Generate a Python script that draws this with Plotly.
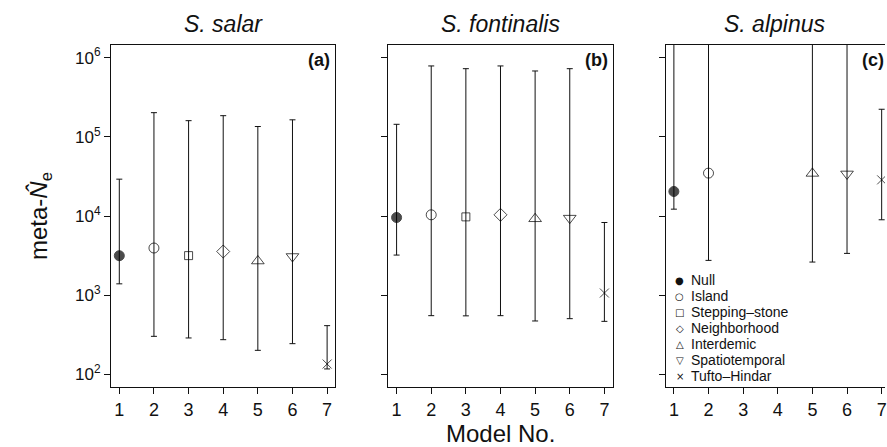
import plotly.graph_objects as go

models = [1, 2, 3, 4, 5, 6, 7]
model_names = ["Null", "Island", "Stepping\u2013stone", "Neighborhood",
               "Interdemic", "Spatiotemporal", "Tufto\u2013Hindar"]
species = ["S. salar", "S. fontinalis", "S. alpinus"]
panel_tags = ["(a)", "(b)", "(c)"]

salar_est = [3150, 3940, 3160, 3560, 2700, 3080, 135]
salar_lo = [1390, 302, 288, 274, 201, 244, 117]
salar_hi = [29200, 202000, 160000, 185000, 135000, 164000, 412]

fontinalis_est = [9570, 10350, 9750, 10350, 9220, 9400, 1064]
fontinalis_lo = [3210, 551, 548, 551, 472, 505, 467]
fontinalis_hi = [144000, 786000, 726000, 786000, 679000, 726000, 8280]

# upper limits of models 1,2,5,6 are unbounded (infinite) for S. alpinus
alpinus_est = [20400, 34800, None, None, 34500, 34000, 28600]
alpinus_lo = [12200, 2750, None, None, 2620, 3370, 8960]
alpinus_hi = [1e12, 1e12, None, None, 1e12, 1e12, 223000]

ytick_vals = [100, 1000, 10000, 100000, 1000000]
ytick_text = ["10<sup>2</sup>", "10<sup>3</sup>", "10<sup>4</sup>",
              "10<sup>5</sup>", "10<sup>6</sup>"]

symbols = ["circle", "circle-open", "square-open", "diamond-open",
           "triangle-up-open", "triangle-down-open", "x-thin-open"]
sizes = [10, 10, 8, 10, 11, 11, 9]
legend_glyphs = ["\u25CF", "\u25CB", "\u25A1", "\u25C7", "\u25B3", "\u25BD", "\u00D7"]

INK = "#111111"
FONT = "Liberation Sans, Arial, sans-serif"

data = [(salar_est, salar_lo, salar_hi),
        (fontinalis_est, fontinalis_lo, fontinalis_hi),
        (alpinus_est, alpinus_lo, alpinus_hi)]

fig = go.Figure()
for i, (est, lo, hi) in enumerate(data):
    sfx = "" if i == 0 else str(i + 1)
    up = [None if e is None else h - e for e, h in zip(est, hi)]
    dn = [None if e is None else e - l for e, l in zip(est, lo)]
    fig.add_trace(go.Scatter(
        x=models, y=est, mode="markers", showlegend=False,
        xaxis="x" + sfx, yaxis="y" + sfx,
        marker=dict(symbol=symbols, size=sizes, color="#000000",
                    line=dict(color="#000000", width=1)),
        error_y=dict(type="data", symmetric=False, array=up, arrayminus=dn,
                     color=INK, thickness=1, width=3),
    ))

W_PLOT = 887 - 111
dom = [[0, 225 / W_PLOT], [278 / W_PLOT, 503 / W_PLOT], [556 / W_PLOT, 1.0]]
xr = [[0.76, 7.24], [0.76, 7.24], [0.76, 0.76 + 220 / 34.72]]

layout = dict(
    width=887, height=447,
    margin=dict(l=111, r=0, t=45, b=60),
    paper_bgcolor="white", plot_bgcolor="white",
    font=dict(family=FONT, color=INK, size=18),
    showlegend=False,
)
annotations = []
for i in range(3):
    sfx = "" if i == 0 else str(i + 1)
    layout["xaxis" + sfx] = dict(
        domain=dom[i], range=xr[i], anchor="y" + sfx,
        tickvals=models, ticktext=[str(m) for m in models],
        ticks="outside", ticklen=6, tickwidth=1, tickcolor=INK,
        showline=True, linecolor=INK, linewidth=1, mirror=True,
        showgrid=False, zeroline=False, tickfont=dict(size=18),
        ticklabeloverflow="allow",
    )
    layout["yaxis" + sfx] = dict(
        type="log", range=[1.84, 6.16], anchor="x" + sfx,
        tickvals=ytick_vals, ticktext=ytick_text,
        showticklabels=(i == 0),
        ticks="outside", ticklen=6, tickwidth=1, tickcolor=INK,
        showline=True, linecolor=INK, linewidth=1, mirror=(i < 2),
        showgrid=False, zeroline=False, tickfont=dict(size=17),
    )
    annotations.append(dict(
        text="<i>" + species[i] + "</i>", xref="x" + sfx + " domain",
        yref="paper", x=0.5, y=1, yshift=21, xanchor="center",
        yanchor="middle", showarrow=False, font=dict(size=23)))
    annotations.append(dict(
        text="<b>" + panel_tags[i] + "</b>", xref="x" + sfx + " domain",
        yref="paper", x=1, y=1, xshift=-3 if i < 2 else 1, yshift=-15,
        xanchor="right", yanchor="middle", showarrow=False,
        font=dict(size=18)))

annotations.append(dict(
    text="meta-<i>N\u0302</i><sub>e</sub>", xref="paper", yref="paper",
    x=0, y=0.5, xshift=-71, xanchor="center", yanchor="middle",
    textangle=-90, showarrow=False, font=dict(size=24)))
annotations.append(dict(
    text="Model No.", xref="x2 domain", yref="paper", x=0.5, y=0,
    yshift=-46, xanchor="center", yanchor="middle", showarrow=False,
    font=dict(size=24)))

for k, (g, name) in enumerate(zip(legend_glyphs, model_names)):
    ys = 107 - 16 * k
    annotations.append(dict(
        text=g, xref="x3 domain", yref="y3 domain", x=0, y=0,
        xshift=14, yshift=ys, xanchor="center", yanchor="middle",
        showarrow=False, font=dict(size=10, family="DejaVu Sans")))
    annotations.append(dict(
        text=name, xref="x3 domain", yref="y3 domain", x=0, y=0,
        xshift=23, yshift=ys, xanchor="left", yanchor="middle",
        showarrow=False, font=dict(size=14)))

layout["annotations"] = annotations
fig.update_layout(**layout)
fig.write_html("out.html",
               config={"displayModeBar": False},
               post_script="document.body.style.margin='0';"
                           "document.body.style.overflow='hidden';")
